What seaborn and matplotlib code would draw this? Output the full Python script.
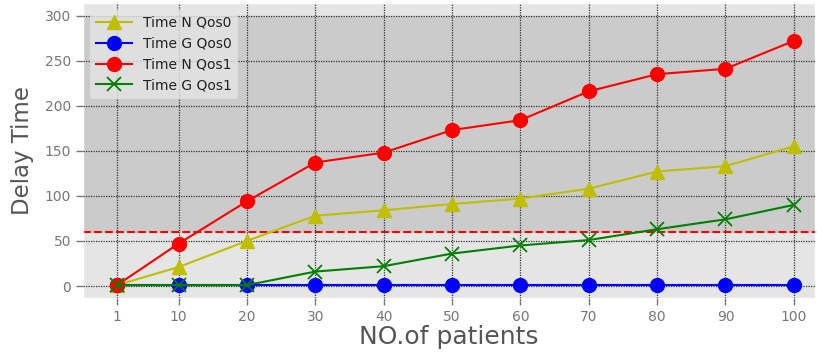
import matplotlib
matplotlib.use("Agg")
import matplotlib.pyplot as plt
import seaborn as sns
import pandas as pd

# Number of patients on the x axis
patients = [1, 10, 20, 30, 40, 50, 60, 70, 80, 90, 100]

# Delay times per scheme
time_n_qos0 = [1, 21, 50, 78, 84, 91, 97, 108, 127, 133, 155]
time_g_qos0 = [1, 1, 1, 1, 1, 1, 1, 1, 1, 1, 1]
time_n_qos1 = [1, 47, 94, 137, 148, 173, 184, 216, 235, 241, 272]
time_g_qos1 = [1, 1, 1, 16, 22, 36, 45, 51, 63, 74, 90]

threshold = 60
xtick_labels = [str(p) for p in patients]

plt.style.use("ggplot")
fig = plt.figure(figsize=(8.17, 3.52), dpi=100)
ax = fig.add_axes([0.1016, 0.1534, 0.8960, 0.8381])
ax.set_facecolor("#E5E5E5")

# Region above the threshold
ax.axhspan(threshold, 300, color="#CBCBCB", zorder=0)

series = [
    ("Time N Qos0", time_n_qos0, "y", "^"),
    ("Time G Qos0", time_g_qos0, "b", "o"),
    ("Time N Qos1", time_n_qos1, "r", "o"),
    ("Time G Qos1", time_g_qos1, "g", "x"),
]
for name, vals, col, mk in series:
    df = pd.DataFrame({"patients": patients, "delay": vals})
    sns.lineplot(data=df, x="patients", y="delay", ax=ax, color=col,
                 marker=mk, markersize=10, markeredgewidth=1.3 if mk == "x" else 1,
                 markeredgecolor=col, linewidth=1.5, label=name, zorder=3)

ax.axhline(threshold, color="red", linestyle="--", linewidth=1.5, zorder=2)

ax.grid(True, color="#333333", linestyle=(0, (1, 1)), linewidth=0.9)
ax.set_axisbelow(False)
for gl in ax.get_xgridlines() + ax.get_ygridlines():
    gl.set_zorder(1)

ax.set_xticks(patients)
ax.set_xticklabels(xtick_labels)
ax.set_yticks([0, 50, 100, 150, 200, 250, 300])
ax.set_xlim(-3.97, 103.1)
ax.set_ylim(-13.3, 314)
ax.tick_params(axis="both", labelsize=10, colors="#777777", length=5,
               width=1, direction="out")

ax.set_xlabel("NO.of patients", fontsize=18, color="#555555", labelpad=1)
ax.set_ylabel("Delay Time", fontsize=16.5, color="#555555", labelpad=8)

leg = ax.legend(loc="upper left", fontsize=10, frameon=True,
                facecolor="#E5E5E5", edgecolor="#E5E5E5", framealpha=0.8,
                borderpad=0.4, labelspacing=0.5, handlelength=2.6)
for t in leg.get_texts():
    t.set_color("#222222")

fig.savefig("out.png", dpi=100)
